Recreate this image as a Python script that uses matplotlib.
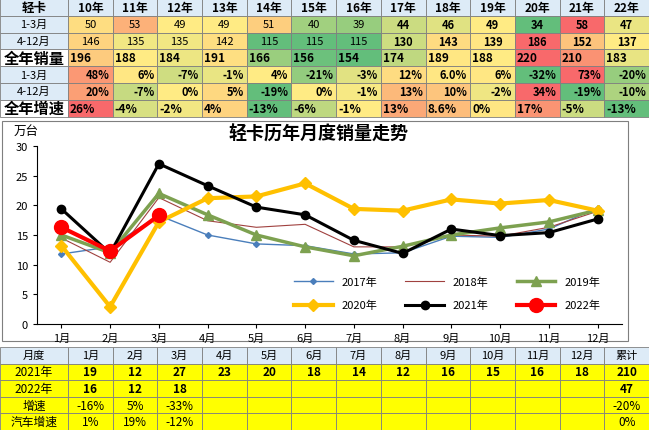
import matplotlib.pyplot as plt
import numpy as np
from matplotlib.patches import Rectangle

plt.rcParams['font.family'] = ['Noto Sans CJK SC']

# top table
years_hdr = ['10年', '11年', '12年', '13年', '14年', '15年', '16年', '17年', '18年', '19年', '20年', '21年', '22年']
q1_sales = [50, 53, 49, 49, 51, 40, 39, 44, 46, 49, 34, 58, 47]
rest_sales = [146, 135, 135, 142, 115, 115, 115, 130, 143, 139, 186, 152, 137]
year_sales = [196, 188, 184, 191, 166, 156, 154, 174, 189, 188, 220, 210, 183]
q1_growth = [48, 6, -7, -1, 4, -21, -3, 12, 6.0, 6, -32, 73, -20]
rest_growth = [20, -7, 0, 5, -19, 0, -1, 13, 10, -2, 34, -19, -10]
year_growth = [26, -4, -2, 4, -13, -6, -1, 13, 8.6, 0, 17, -5, -13]

# line chart
months = ['1月', '2月', '3月', '4月', '5月', '6月', '7月', '8月', '9月', '10月', '11月', '12月']
s2017 = [11.8, 13.0, 18.3, 15.0, 13.5, 13.2, 11.8, 12.0, 14.8, 14.6, 16.0, 19.6]
s2018 = [14.5, 10.4, 21.3, 17.4, 16.3, 16.8, 13.0, 13.0, 15.0, 14.8, 16.3, 19.0]
s2019 = [15.0, 12.0, 22.0, 18.4, 15.0, 13.0, 11.5, 13.1, 15.0, 16.2, 17.2, 19.2]
s2020 = [13.2, 2.9, 17.2, 21.2, 21.5, 23.7, 19.4, 19.1, 21.0, 20.3, 20.9, 19.1]
s2021 = [19.4, 11.9, 27.0, 23.3, 19.7, 18.4, 14.1, 11.9, 16.0, 14.9, 15.4, 17.7]
s2022 = [16.3, 12.3, 18.3]

# bottom table
bot_hdr = ['1月', '2月', '3月', '4月', '5月', '6月', '7月', '8月', '9月', '10月', '11月', '12月', '累计']
bot_2021 = ['19', '12', '27', '23', '20', '18', '14', '12', '16', '15', '16', '18', '210']
bot_2022 = ['16', '12', '18', '', '', '', '', '', '', '', '', '', '47']
bot_growth = ['-16%', '5%', '-33%', '', '', '', '', '', '', '', '', '', '-20%']
bot_auto = ['1%', '19%', '-12%', '', '', '', '', '', '', '', '', '', '0%']

W, H = 649, 431
fig = plt.figure(figsize=(6.49, 4.31), dpi=100)
bg = fig.add_axes([0, 0, 1, 1])
bg.set_xlim(0, W)
bg.set_ylim(H, 0)
bg.axis('off')

GREEN = np.array([99, 190, 123]) / 255
YEL = np.array([255, 235, 132]) / 255
RED = np.array([248, 105, 107]) / 255


def scale_color(v, vals):
    lo, hi, mid = min(vals), max(vals), np.percentile(vals, 50)
    if v <= mid:
        t = 0 if mid == lo else (v - lo) / (mid - lo)
        return GREEN + (YEL - GREEN) * t
    t = 0 if hi == mid else (v - mid) / (hi - mid)
    return YEL + (RED - YEL) * t


x0, cw = 68, (W - 68) / 13
rh = 16.8
hdr_blue = '#DDEBF7'

def cell(x, y, w, h, fc, text='', ha='center', fs=8, bold=False):
    bg.add_patch(Rectangle((x, y), w, h, facecolor=fc, edgecolor='#7f7f7f', lw=0.6))
    if text != '':
        tx = {'center': x + w / 2, 'right': x + w - 3, 'left': x + 2}[ha]
        bg.text(tx, y + h / 2, text, ha=ha, va='center', fontsize=fs,
                fontweight='bold' if bold else 'normal')

cell(0, 0, x0, rh, hdr_blue, '轻卡', bold=True, fs=9)
for i, t in enumerate(years_hdr):
    cell(x0 + i * cw, 0, cw, rh, hdr_blue, t, bold=True, fs=8.5)

rows = [
    ('1-3月', q1_sales, 'center', False, hdr_blue),
    ('4-12月', rest_sales, 'center', False, hdr_blue),
    ('全年销量', year_sales, 'left', True, 'white'),
    ('1-3月', q1_growth, 'right', False, hdr_blue),
    ('4-12月', rest_growth, 'right', False, hdr_blue),
    ('全年增速', year_growth, 'left', True, 'white'),
]
for r, (lab, vals, ha, big, lfc) in enumerate(rows):
    y = rh * (r + 1)
    cell(0, y, x0, rh, lfc, lab, fs=11 if big else 8, bold=big)
    for i, v in enumerate(vals):
        txt = str(v) if r < 3 else f'{v:g}%'
        if r == 3 and i == 8:
            txt = '6.0%'
        cell(x0 + i * cw, y, cw, rh, scale_color(v, vals), txt, ha=ha,
             fs=8.5 if big else 8, bold=(big or r >= 3 or i >= 7))

# line chart
ax = fig.add_axes([37 / W, 1 - 325 / H, 585 / W, 178 / H])
x = np.arange(12)
l17, = ax.plot(x, s2017, color='#4a7ebb', lw=1, marker='D', ms=3, label='2017年')
l18, = ax.plot(x, s2018, color='#a0413f', lw=0.8, label='2018年')
l19, = ax.plot(x, s2019, color='#7da150', lw=2.5, marker='^', ms=7, label='2019年')
l20, = ax.plot(x, s2020, color='#ffc000', lw=3, marker='D', ms=6, label='2020年')
l21, = ax.plot(x, s2021, color='black', lw=2.2, marker='o', ms=6, label='2021年')
l22, = ax.plot(x[:3], s2022, color='red', lw=3, marker='o', ms=10, label='2022年')
ax.set_ylim(0, 30)
ax.set_yticks(range(0, 31, 5))
ax.set_xlim(-0.5, 11.5)
ax.set_xticks(x)
ax.set_xticklabels(months)
ax.tick_params(labelsize=8, length=3)
for s in ['top', 'right']:
    ax.spines[s].set_visible(False)
hs = [l17, l20, l18, l21, l19, l22]
ax.legend(hs, [h.get_label() for h in hs], loc='lower right',
          bbox_to_anchor=(0.98, 0.02), ncol=3, frameon=False,
          fontsize=8, handlelength=3.5, columnspacing=2.5, labelspacing=1.2)
bg.text(318, 134, '轻卡历年月度销量走势', ha='center', va='center', fontsize=13, fontweight='bold')
bg.text(14, 131, '万台', fontsize=9, va='center')
bg.add_patch(Rectangle((2, 122), 626, 220, fill=False, edgecolor='#7f7f7f', lw=0.8))

# bottom table
by0, brh = 348, 16.6
cell(0, by0, x0, brh, hdr_blue, '月度')
for i, t in enumerate(bot_hdr):
    cell(x0 + i * cw, by0, cw, brh, hdr_blue, t)
brows = [('2021年', bot_2021, True), ('2022年', bot_2022, True),
         ('增速', bot_growth, False), ('汽车增速', bot_auto, False)]
for r, (lab, vals, b) in enumerate(brows):
    y = by0 + brh * (r + 1)
    cell(0, y, x0, brh, '#ffff00', lab, fs=8.5)
    for i, v in enumerate(vals):
        cell(x0 + i * cw, y, cw, brh, '#ffff00', v, fs=8.5, bold=b)

fig.savefig('out.png', dpi=100)
